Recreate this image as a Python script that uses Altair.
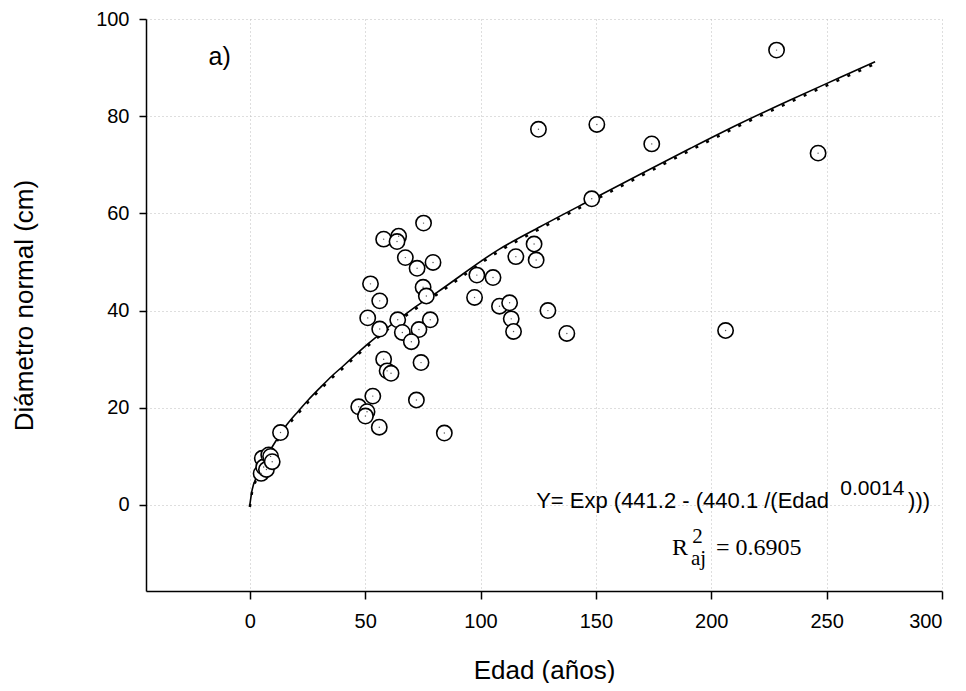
import altair as alt
import pandas as pd

# Observed points: Edad (años) vs Diámetro normal (cm)
edad = [4.9, 5.4, 6.0, 7.2, 8.2, 9.0, 9.7, 13.3,
        75.3, 64.5, 58.0, 63.8, 67.4, 72.5, 79.4, 98.4, 105.4, 52.3, 75.1, 76.5,
        56.3, 97.4, 108.2, 51.1, 64.1, 78.2, 56.3, 66.1, 73.3, 70.0, 58.0, 74.2,
        59.5, 61.2, 53.3, 72.2, 47.2, 50.8, 50.1, 56.1, 84.3,
        125.1, 150.4, 174.2, 148.2, 123.2, 115.3, 124.1, 112.6, 113.3, 114.3,
        129.2, 137.4, 228.3, 246.3, 206.2]
diametro = [6.5, 9.6, 7.8, 7.3, 10.3, 10.0, 8.9, 14.9,
            58.0, 55.3, 54.7, 54.2, 50.9, 48.7, 49.9, 47.3, 46.8, 45.5, 44.8, 43.0,
            42.0, 42.7, 40.9, 38.5, 38.1, 38.1, 36.2, 35.5, 36.1, 33.6, 30.0, 29.3,
            27.6, 27.1, 22.4, 21.6, 20.2, 19.2, 18.3, 16.0, 14.8,
            77.3, 78.3, 74.3, 63.0, 53.7, 51.1, 50.4, 41.6, 38.3, 35.7,
            40.0, 35.3, 93.6, 72.4, 35.9]

# Fitted curve
curve_x = [0, 1, 3, 10.4, 16, 21, 25.5, 30.6, 35.7, 40.7, 45.8, 50.8, 71, 81,
           108, 126, 148, 169, 191, 212, 234, 256, 271]
curve_y = [0, 3.1, 5.8, 12.5, 16.5, 19.3, 21.7, 24.2, 26.6, 28.7, 30.9, 33.0,
           40.5, 43.7, 52.6, 57.3, 62.8, 68.0, 73.4, 78.4, 83.3, 88.0, 91.2]

x_ticks = [0, 50, 100, 150, 200, 250, 300]
y_ticks = [0, 20, 40, 60, 80, 100]
x_domain = [-45, 300]
y_domain = [-17.7, 100]

pts = pd.DataFrame({"Edad": edad, "Diam": diametro})
crv = pd.DataFrame({"Edad": curve_x, "Diam": curve_y})

xs = alt.Scale(domain=x_domain, nice=False, zero=False)
ys = alt.Scale(domain=y_domain, nice=False, zero=False)

X = alt.X("Edad:Q", scale=xs, title="Edad (años)",
          axis=alt.Axis(values=x_ticks, format="d", tickSize=8, labelPadding=12,
                        titlePadding=26))
Y = alt.Y("Diam:Q", scale=ys, title="Diámetro normal (cm)",
          axis=alt.Axis(values=y_ticks, format="d", tickSize=7, labelPadding=10,
                        titlePadding=58))

curve = alt.Chart(crv).mark_line(color="black", strokeWidth=1.6,
                                 interpolate="monotone").encode(x=X, y=Y)
curve_dash = alt.Chart(crv).mark_line(color="black", strokeWidth=2.5,
                                      strokeDash=[3, 9], yOffset=2,
                                      interpolate="monotone").encode(x=X, y=Y)

circles = alt.Chart(pts).mark_point(shape="circle", filled=False, fill="white",
                                    fillOpacity=1, stroke="black", strokeWidth=1.6,
                                    size=235, opacity=1).encode(x=X, y=Y)
dots = alt.Chart(pts).mark_point(shape="circle", filled=True, color="#555555",
                                 size=2, opacity=1).encode(x=X, y=Y)

ann_main = pd.DataFrame({"Edad": [124.1], "Diam": [-0.6],
                         "t": ["Y= Exp (441.2 - (440.1 /(Edad"]})
ann_sup = pd.DataFrame({"Edad": [255.9], "Diam": [2.1], "t": ["0.0014"]})
ann_close = pd.DataFrame({"Edad": [285.3], "Diam": [-0.6], "t": [")))"]})
ann_a = pd.DataFrame({"Edad": [-17.9], "Diam": [90.5], "t": ["a)"]})
r_R = pd.DataFrame({"Edad": [183.0], "Diam": [-10.3], "t": ["R"]})
r_2 = pd.DataFrame({"Edad": [191.7], "Diam": [-7.8], "t": ["2"]})
r_aj = pd.DataFrame({"Edad": [191.2], "Diam": [-12.3], "t": ["aj"]})
r_val = pd.DataFrame({"Edad": [202.0], "Diam": [-10.3], "t": ["= 0.6905"]})


def txt(df, size, font="Liberation Sans"):
    return alt.Chart(df).mark_text(align="left", baseline="alphabetic",
                                   fontSize=size, font=font, color="black").encode(
        x=alt.X("Edad:Q", scale=xs), y=alt.Y("Diam:Q", scale=ys), text="t:N")


chart = alt.layer(
    curve_dash, curve, circles, dots,
    txt(ann_main, 22), txt(ann_sup, 21), txt(ann_close, 22), txt(ann_a, 25),
    txt(r_R, 24, "Liberation Serif"), txt(r_2, 21, "Liberation Serif"),
    txt(r_aj, 21, "Liberation Serif"), txt(r_val, 24, "Liberation Serif"),
).properties(
    width=796, height=572,
    autosize=alt.AutoSizeParams(type="none"),
    padding={"left": 138, "top": 11, "right": 16, "bottom": 92},
).configure_view(strokeWidth=0).configure_axis(
    labelFont="Liberation Sans", labelFontSize=20, labelColor="black",
    titleFont="Liberation Sans", titleFontSize=26, titleFontWeight="normal",
    titleColor="black",
    domainColor="black", domainWidth=1.5, tickColor="black", tickWidth=1.5,
    grid=True, gridColor="#bdbdbd", gridDash=[1, 3], gridWidth=1,
)

chart.save("out.html", embed_options={"renderer": "svg", "actions": False})
